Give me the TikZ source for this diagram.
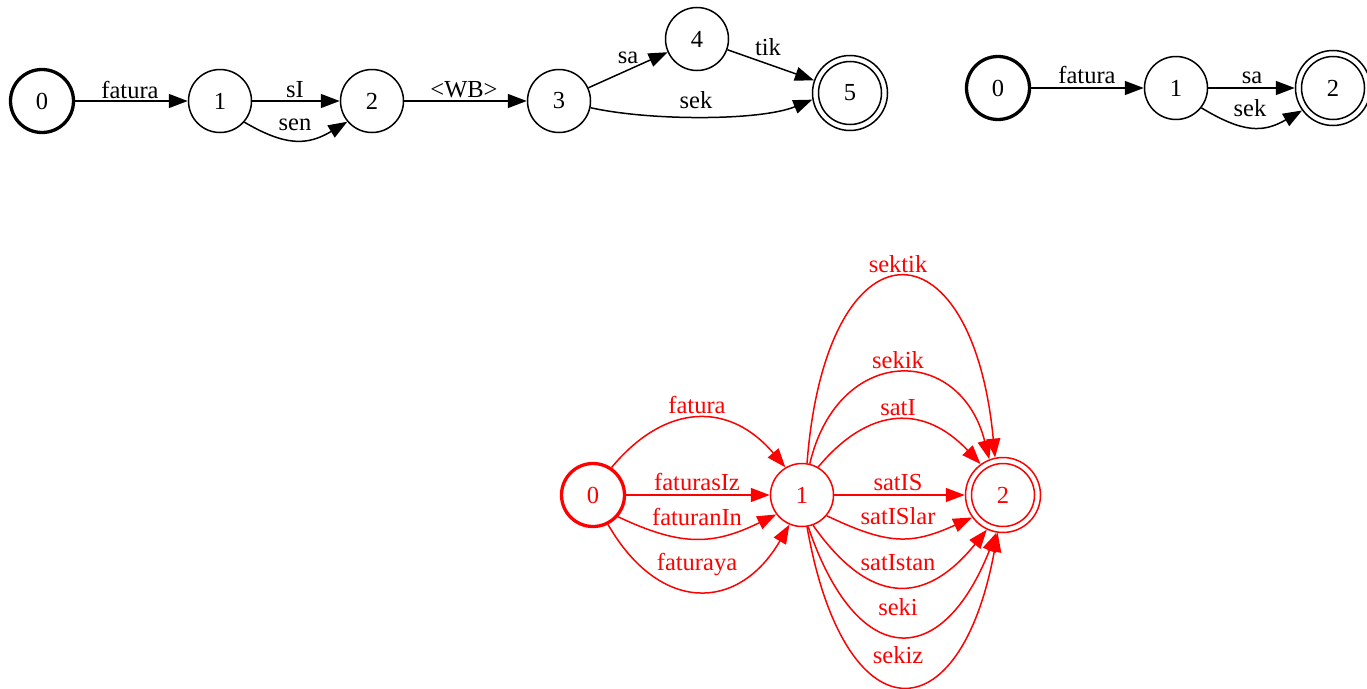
\documentclass[tikz,border=0pt]{standalone}
\usepackage{fontspec}
\setmainfont{Liberation Serif}
\usetikzlibrary{arrows.meta}
\begin{document}
\begin{tikzpicture}[x=1pt,y=-1pt,
  every node/.style={font=\fontsize{24.5}{29}\selectfont},
  fsmstate/.style={circle, draw, line width=1.5pt, minimum size=63pt, inner sep=0pt},
  initstate/.style={fsmstate, line width=3.3pt},
  finalstate/.style={fsmstate, minimum size=75pt,
    path picture={\draw[line width=1.5pt] (path picture bounding box.center) circle (31.5pt);}},
  lbl/.style={anchor=base, inner sep=0pt},
  trans/.style={line width=1.5pt, -{Triangle[length=19pt,width=14pt]}}]
\useasboundingbox (0,0) rectangle (1367,688);

% automaton A: fatura (sI|sen) <WB> (sa tik|sek)
\node[initstate] (a0) at (42,101) {0};
\node[fsmstate] (a1) at (220,101) {1};
\node[fsmstate] (a2) at (372,101) {2};
\node[fsmstate] (a3) at (559,101) {3};
\node[fsmstate] (a4) at (697,39) {4};
\node[finalstate] (a5) at (850,93) {5};
\draw[trans] (a0) -- (a1);
\draw[trans] (a1) -- (a2);
\draw[trans] (a1.-41) .. controls (285,146) and (307,146) .. (a2.-140);
\draw[trans] (a2) -- (a3);
\draw[trans] (a3) -- (a4);
\draw[trans] (a4) -- (a5);
\draw[trans] (a3.-12) .. controls (650,121) and (760,121) .. (a5.190);
\node[lbl] (la01) at (130,98) {fatura};
\node[lbl] (la12a) at (295,97) {sI};
\node[lbl] (la12b) at (295,130) {sen};
\node[lbl] (la23) at (464,97) {<WB>};
\node[lbl] (la34) at (628,63) {sa};
\node[lbl] (la45) at (768,55) {tik};
\node[lbl] (la35) at (696,108) {sek};

% automaton B: fatura (sa|sek)
\node[initstate] (b0) at (998,88) {0};
\node[fsmstate] (b1) at (1176,88) {1};
\node[finalstate] (b2) at (1333,88) {2};
\draw[trans] (b0) -- (b1);
\draw[trans] (b1) -- (b2);
\draw[trans] (b1.-38) .. controls (1243,133) and (1263,133) .. (b2.-144);
\node[lbl] (lb01) at (1087,83) {fatura};
\node[lbl] (lb12a) at (1252,83) {sa};
\node[lbl] (lb12b) at (1250,116) {sek};

% automaton C (red)
\begin{scope}[red]
\node[initstate] (c0) at (593,495) {0};
\node[fsmstate] (c1) at (802,495) {1};
\node[finalstate] (c2) at (1003,495) {2};
\draw[trans] (c0.56) .. controls (666,402) and (730,402) .. (c1.121);
\draw[trans] (c0) -- (c1);
\draw[trans] (c0.-41) .. controls (680,546) and (712,546) .. (c1.-143);
\draw[trans] (c0.-63) .. controls (659,613) and (738,613) .. (c1.-113);
\draw[trans] (c1.81) .. controls (826,216) and (972,216) .. (c2.102);
\draw[trans] (c1.76) .. controls (838,344) and (960,344) .. (c2.111);
\draw[trans] (c1.60) .. controls (870,405) and (925,405) .. (c2.126);
\draw[trans] (c1) -- (c2);
\draw[trans] (c1.-40) .. controls (888,545) and (911,545) .. (c2.-144);
\draw[trans] (c1.-70) .. controls (870,606) and (925,606) .. (c2.-115);
\draw[trans] (c1.-79) .. controls (857,671) and (942,671) .. (c2.-100);
\draw[trans] (c1.-81) .. controls (844,738) and (960,738) .. (c2.-98);
\node[lbl] (lc01a) at (697,413) {fatura};
\node[lbl] (lc01b) at (697,490) {faturasIz};
\node[lbl] (lc01c) at (697,525) {faturanIn};
\node[lbl] (lc01d) at (697,570) {faturaya};
\node[lbl] (lc12a) at (898,272) {sektik};
\node[lbl] (lc12b) at (898,368) {sekik};
\node[lbl] (lc12c) at (898,415) {satI};
\node[lbl] (lc12d) at (898,490) {satIS};
\node[lbl] (lc12e) at (898,524) {satISlar};
\node[lbl] (lc12f) at (898,570) {satIstan};
\node[lbl] (lc12g) at (898,615) {seki};
\node[lbl] (lc12h) at (898,663) {sekiz};
\end{scope}
\end{tikzpicture}
\end{document}
